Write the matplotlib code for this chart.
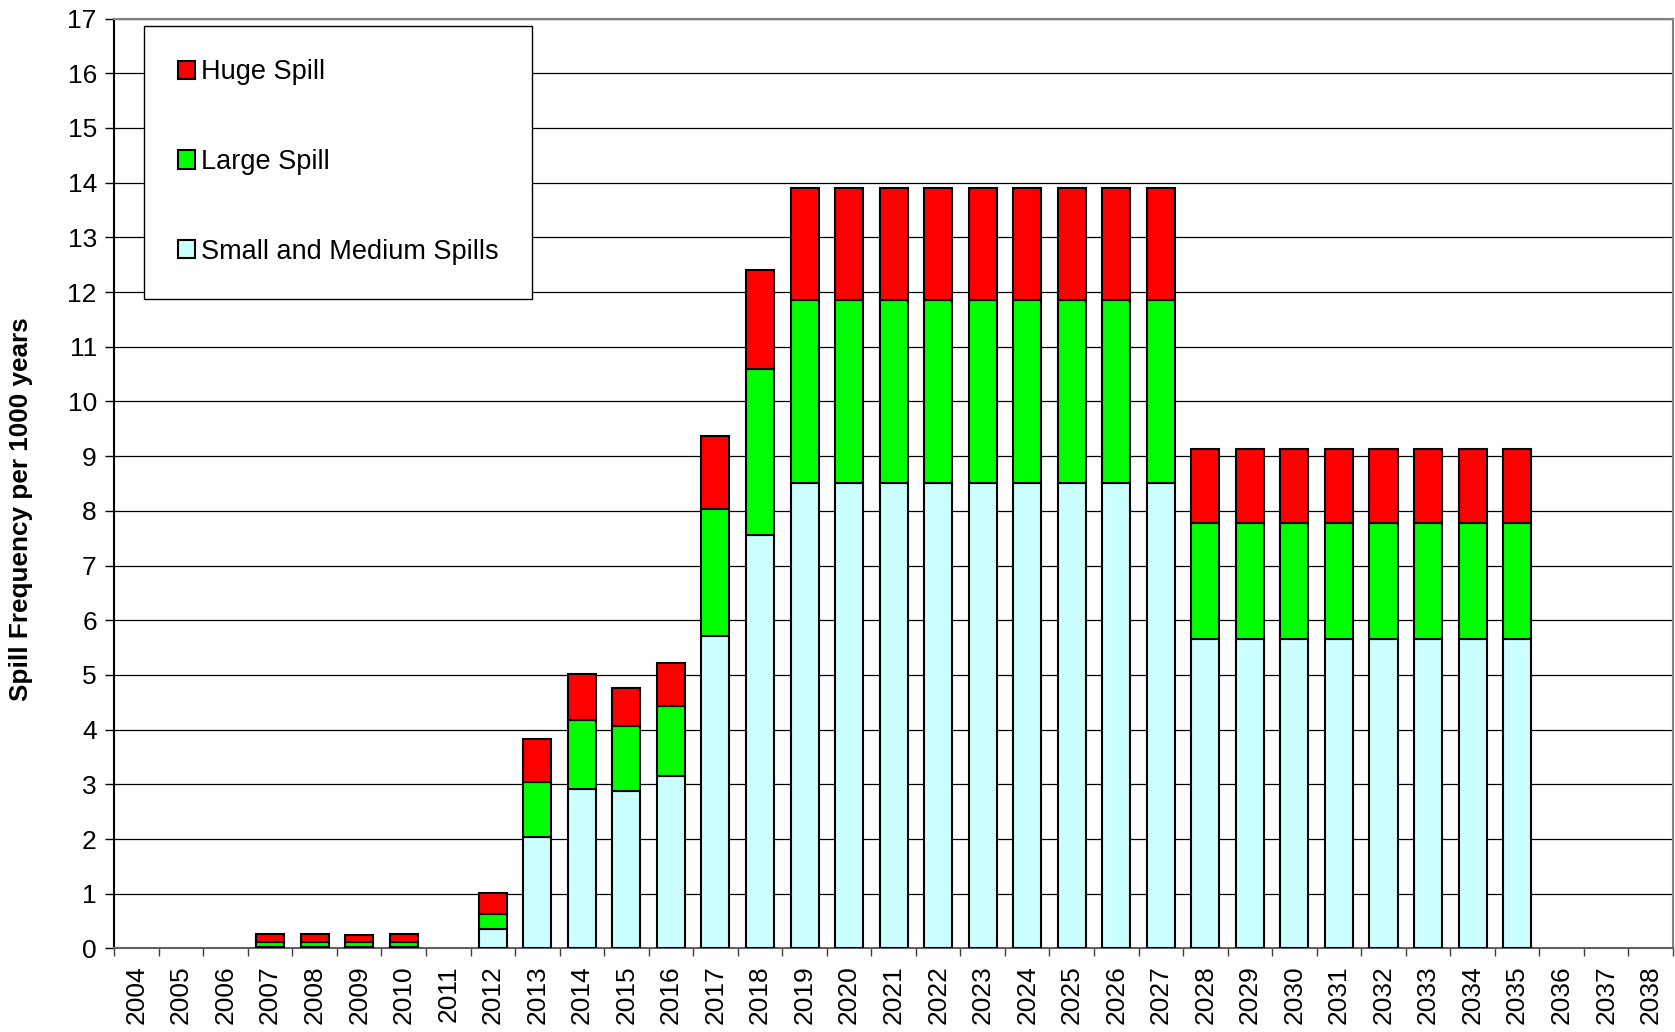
import matplotlib.pyplot as plt
import numpy as np

plt.rcParams['font.family'] = ['Liberation Sans', 'DejaVu Sans']

# years on the x axis
years = [str(y) for y in range(2004, 2039)]

# spill frequency per 1000 years
small_medium = [0, 0, 0, 0.03, 0.03, 0.03, 0.03, 0, 0.35, 2.03, 2.92, 2.88,
                3.16, 5.71, 7.56, 8.51, 8.51, 8.51, 8.51, 8.51, 8.51, 8.51,
                8.51, 8.51, 5.65, 5.65, 5.65, 5.65, 5.65, 5.65, 5.65, 5.65,
                0, 0, 0]
large = [0, 0, 0, 0.09, 0.09, 0.09, 0.09, 0, 0.27, 1.02, 1.25, 1.19,
         1.28, 2.33, 3.03, 3.34, 3.34, 3.34, 3.34, 3.34, 3.34, 3.34,
         3.34, 3.34, 2.13, 2.13, 2.13, 2.13, 2.13, 2.13, 2.13, 2.13,
         0, 0, 0]
huge = [0, 0, 0, 0.15, 0.15, 0.12, 0.15, 0, 0.39, 0.77, 0.85, 0.69,
        0.78, 1.33, 1.82, 2.05, 2.05, 2.05, 2.05, 2.05, 2.05, 2.05,
        2.05, 2.05, 1.35, 1.35, 1.35, 1.35, 1.35, 1.35, 1.35, 1.35,
        0, 0, 0]

fig = plt.figure(figsize=(16.75, 10.32), dpi=100)
ax = fig.add_axes([0.0682, 0.0810, 0.9306, 0.9010])

x = np.arange(len(years))
small_arr = np.array(small_medium)
large_arr = np.array(large)
huge_arr = np.array(huge)
mask = (small_arr + large_arr + huge_arr) > 0

bar_kw = dict(width=0.63, edgecolor='black', linewidth=1.5, zorder=3)
b1 = ax.bar(x[mask], small_arr[mask], color='#CCFFFF',
            label='Small and Medium Spills', **bar_kw)
b2 = ax.bar(x[mask], large_arr[mask], bottom=small_arr[mask], color='#00FF00',
            label='Large Spill', **bar_kw)
b3 = ax.bar(x[mask], huge_arr[mask], bottom=small_arr[mask] + large_arr[mask],
            color='#FF0000', label='Huge Spill', **bar_kw)

ax.set_xlim(-0.5, len(years) - 0.5)
ax.set_ylim(0, 17)
ax.set_yticks(range(0, 18))
ax.yaxis.grid(True, color='black', linewidth=0.9, zorder=0)
ax.set_axisbelow(True)

ax.set_xticks(x)
ax.set_xticklabels(years, rotation=90)
ax.set_xticks(np.arange(-0.5, len(years)), minor=True)
ax.tick_params(axis='x', which='major', length=0, pad=12, labelsize=19)
ax.tick_params(axis='x', which='minor', length=6, width=1, color='#404040')
ax.tick_params(axis='y', length=6.5, width=1, pad=6, labelsize=19)

for side in ['top', 'right']:
    ax.spines[side].set_color('#808080')
    ax.spines[side].set_linewidth(1.5)
ax.spines['left'].set_color('black')
ax.spines['left'].set_linewidth(1.5)
ax.spines['bottom'].set_color('#606060')
ax.spines['bottom'].set_linewidth(1.5)

ax.set_ylabel('Spill Frequency per 1000 years', fontsize=18.8, fontweight='bold')
ax.yaxis.set_label_coords(-0.052, 0.472)

leg = ax.legend(handles=[b3, b2, b1], loc='upper left',
                bbox_to_anchor=(0.019, 0.9925), borderaxespad=0,
                fontsize=19.5, frameon=True, fancybox=False,
                edgecolor='black', framealpha=1, borderpad=1.25,
                labelspacing=2.35, handlelength=0.65, handleheight=0.65,
                handletextpad=0.2)
leg.get_frame().set_linewidth(1.0)

fig.savefig('out.png', dpi=100)
